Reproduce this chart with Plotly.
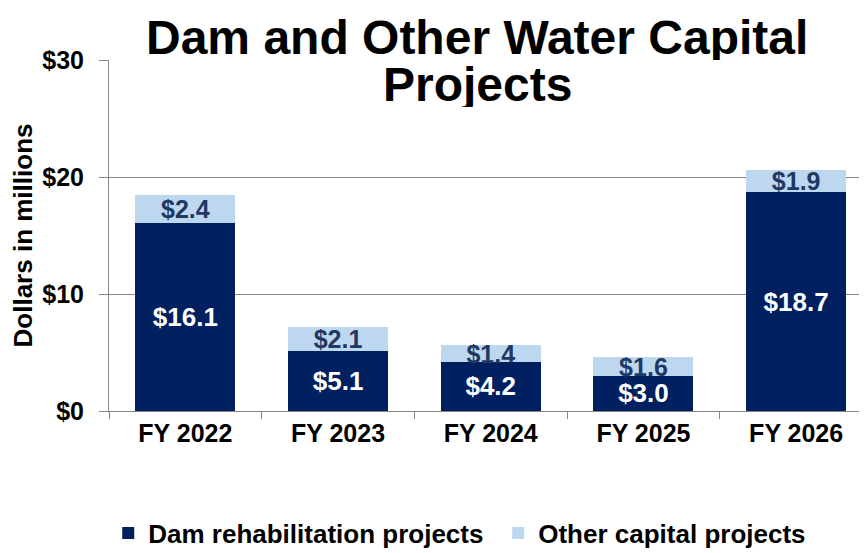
import plotly.graph_objects as go

categories = ["FY 2022", "FY 2023", "FY 2024", "FY 2025", "FY 2026"]
dam_rehab = [16.1, 5.1, 4.2, 3.0, 18.7]
other_capital = [2.4, 2.1, 1.4, 1.6, 1.9]
y_ticks = [0, 10, 20, 30]
y_tick_labels = ["$0", "$10", "$20", "$30"]
title_lines = ["Dam and Other Water Capital", "Projects"]
title_offsets = [23, -24]  # px above the plot top for each title line's centre

FONT = "Liberation Sans, Arial, sans-serif"
DARK = "#002060"
LIGHT = "#bdd7ee"
LABEL_DARK = "#1f3864"

fig = go.Figure()
fig.add_trace(go.Bar(
    x=categories, y=dam_rehab, name="Dam rehabilitation projects",
    marker=dict(color=DARK, line=dict(width=0)),
    text=[f"${v:.1f}" for v in dam_rehab], textposition="inside",
    insidetextanchor="middle", constraintext="none",
    textfont=dict(family=FONT, size=26, color="white", weight="bold"),
))
fig.add_trace(go.Bar(
    x=categories, y=other_capital, name="Other capital projects",
    marker=dict(color=LIGHT, line=dict(width=0)),
    text=[f"${v:.1f}" for v in other_capital], textposition="inside",
    insidetextanchor="middle", constraintext="none",
    textfont=dict(family=FONT, size=25, color=LABEL_DARK, weight="bold"),
))

# Two-line title (line spacing tighter than Plotly's default)
for line, off in zip(title_lines, title_offsets):
    fig.add_annotation(
        text=line, xref="paper", yref="paper",
        x=0.486, xanchor="center", y=1.0 + off / 351, yanchor="middle",
        height=46, valign="middle", showarrow=False,
        font=dict(family=FONT, size=48, color="black", weight="bold"),
    )

fig.update_layout(
    width=859, height=545,
    barmode="stack", bargap=0.345,
    paper_bgcolor="white", plot_bgcolor="white",
    margin=dict(l=101, r=0, t=52, b=142, autoexpand=False),
    font=dict(family=FONT, color="black", weight="bold"),
    showlegend=True,
    legend=dict(
        orientation="h", x=-0.001, xanchor="left", y=-0.3476, yanchor="middle",
        font=dict(family=FONT, size=26, color="black", weight="bold"),
        entrywidth=345, traceorder="normal",
    ),
    xaxis=dict(
        range=[-0.5, 4.464], showgrid=False,
        showline=True, linecolor="#868686", linewidth=1,
        ticks="outside", tickson="boundaries", ticklen=7, tickcolor="#868686",
        tickfont=dict(family=FONT, size=25, color="black", weight="bold"),
    ),
    yaxis=dict(
        range=[0, 30], tickvals=y_ticks, ticktext=y_tick_labels,
        showgrid=True, gridcolor="#868686", gridwidth=1,
        showline=True, linecolor="#868686", linewidth=1,
        ticks="outside", ticklen=9, tickcolor="#868686",
        ticklabelstandoff=10,
        tickfont=dict(family=FONT, size=25, color="black", weight="bold"),
        title=dict(text="Dollars in millions", standoff=8,
                   font=dict(family=FONT, size=26, color="black", weight="bold")),
        zeroline=False,
    ),
)

fig.write_html("out.html")
